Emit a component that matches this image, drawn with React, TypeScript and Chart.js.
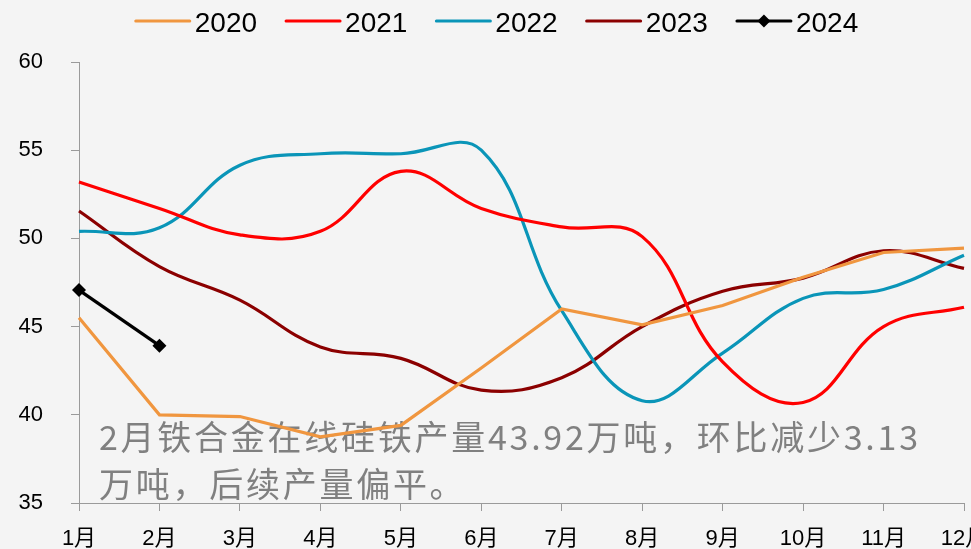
import React, { useEffect, useRef } from "react";
import { Chart, registerables } from "chart.js";

Chart.register(...registerables);

// ---------- data ----------
const months = ["1月", "2月", "3月", "4月", "5月", "6月", "7月", "8月", "9月", "10月", "11月", "12月"];
const seriesNames = ["2020", "2021", "2022", "2023", "2024"];
const values2020 = [45.5, 40.0, 39.9, 38.75, 39.4, 42.65, 46.0, 45.1, 46.2, 47.8, 49.2, 49.45];
const values2021 = [53.2, 51.7, 50.2, 50.4, 53.8, 51.7, 50.65, 50.1, 43.0, 40.7, 45.0, 46.1];
const values2022 = [50.4, 50.6, 54.15, 54.8, 54.8, 55.0, 45.9, 40.8, 43.5, 46.6, 47.1, 49.05];
const values2023 = [51.55, 48.4, 46.5, 43.85, 43.2, 41.4, 42.1, 45.0, 47.0, 47.75, 49.3, 48.3];
const values2024: (number | null)[] = [47.07, 43.92, null, null, null, null, null, null, null, null, null, null];
const yMin = 35;
const yMax = 60;
const yStep = 5;
const noteLines = ["2月铁合金在线硅铁产量43.92万吨，环比减少3.13", "万吨，后续产量偏平。"];

// ---------- styles ----------
const colors = ["#F0963F", "#FF0000", "#0A95B8", "#8B0000", "#000000"];
const axisColor = "#9A9A9A";
const tickFont = '"Liberation Sans", Arial, "Noto Sans CJK SC", sans-serif';

const legendPlugin = {
  id: "customLegend",
  afterDraw(chart: any) {
    const ctx = chart.ctx as CanvasRenderingContext2D;
    ctx.save();
    ctx.font = `28px ${tickFont}`;
    const lineW = 54;
    const gap = 5;
    const itemGap = 29;
    const items = chart.data.datasets.map((ds: any) => ({
      ds,
      text: ds.label as string,
      w: ctx.measureText(ds.label).width,
    }));
    const total =
      items.reduce((s: number, it: any) => s + lineW + gap + it.w, 0) + itemGap * (items.length - 1);
    let x = 497 - total / 2;
    const y = 21;
    for (const it of items) {
      ctx.strokeStyle = it.ds.borderColor;
      ctx.lineWidth = 3;
      ctx.lineCap = "round";
      ctx.beginPath();
      ctx.moveTo(x, y);
      ctx.lineTo(x + lineW, y);
      ctx.stroke();
      if (it.ds.pointRadius > 0) {
        const cx = x + lineW / 2;
        const r = 6.5;
        ctx.fillStyle = it.ds.borderColor;
        ctx.beginPath();
        ctx.moveTo(cx, y - r);
        ctx.lineTo(cx + r, y);
        ctx.lineTo(cx, y + r);
        ctx.lineTo(cx - r, y);
        ctx.closePath();
        ctx.fill();
      }
      ctx.fillStyle = "#000000";
      ctx.textBaseline = "alphabetic";
      ctx.textAlign = "left";
      ctx.fillText(it.text, x + lineW + gap, 32);
      x += lineW + gap + it.w + itemGap;
    }
    ctx.restore();
  },
};

const notePlugin = {
  id: "noteText",
  beforeDatasetsDraw(chart: any) {
    const ctx = chart.ctx as CanvasRenderingContext2D;
    ctx.save();
    ctx.font = '34px "Noto Sans CJK SC", sans-serif';
    ctx.fillStyle = "#808080";
    ctx.textBaseline = "alphabetic";
    ctx.textAlign = "left";
    const first = Array.from(noteLines[0]);
    const natural = first.reduce((s, c) => s + ctx.measureText(c).width, 0);
    const targetW = 819;
    const spacing = (targetW - natural) / (first.length - 1);
    const baselines = [450, 497];
    noteLines.forEach((line, i) => {
      let x = 99;
      for (const c of Array.from(line)) {
        ctx.fillText(c, x, baselines[i]);
        x += ctx.measureText(c).width + spacing;
      }
    });
    ctx.restore();
  },
};

export default function App() {
  const canvasRef = useRef<HTMLCanvasElement | null>(null);

  useEffect(() => {
    document.body.style.margin = "0";
    const canvas = canvasRef.current;
    if (!canvas) return;
    const smoothCommon = { borderWidth: 3.2, pointRadius: 0, pointHoverRadius: 0, fill: false };
    const chart = new Chart(canvas, {
      type: "line",
      data: {
        labels: months,
        datasets: [
          { label: seriesNames[0], data: values2020, borderColor: colors[0], tension: 0, ...smoothCommon },
          { label: seriesNames[1], data: values2021, borderColor: colors[1], tension: 0.4, ...smoothCommon },
          { label: seriesNames[2], data: values2022, borderColor: colors[2], tension: 0.4, ...smoothCommon },
          { label: seriesNames[3], data: values2023, borderColor: colors[3], tension: 0.4, ...smoothCommon },
          {
            label: seriesNames[4],
            data: values2024,
            borderColor: colors[4],
            backgroundColor: colors[4],
            borderWidth: 3.2,
            tension: 0,
            pointStyle: "rectRot",
            pointRadius: 7,
            pointBackgroundColor: colors[4],
            pointBorderColor: colors[4],
            pointBorderWidth: 0,
            fill: false,
          },
        ],
      },
      options: {
        responsive: false,
        animation: false,
        devicePixelRatio: 1,
        layout: { padding: { top: 62, right: 5, left: 0, bottom: 0 } },
        plugins: {
          legend: { display: false },
          tooltip: { enabled: false },
        },
        scales: {
          x: {
            offset: false,
            grid: { drawOnChartArea: false, drawTicks: true, tickLength: 8, color: axisColor, lineWidth: 1 },
            border: { display: true, color: axisColor, width: 1 },
            ticks: {
              autoSkip: false,
              maxRotation: 0,
              minRotation: 0,
              padding: 15,
              color: "#000000",
              font: { size: 22, family: tickFont },
            },
            afterFit: (scale: any) => {
              scale.height = 46;
              scale.paddingRight = 0;
            },
          },
          y: {
            min: yMin,
            max: yMax,
            grid: { drawOnChartArea: false, drawTicks: true, tickLength: 8, color: axisColor, lineWidth: 1 },
            border: { display: true, color: axisColor, width: 1 },
            ticks: {
              stepSize: yStep,
              padding: 28,
              color: "#000000",
              font: { size: 22, family: tickFont },
            },
            afterFit: (scale: any) => {
              scale.width = 79;
            },
          },
        },
      },
      plugins: [notePlugin, legendPlugin],
    });
    return () => chart.destroy();
  }, []);

  return (
    <div style={{ width: 971, height: 549, background: "#F4F4F4", overflow: "hidden" }}>
      <canvas ref={canvasRef} width={971} height={549} style={{ display: "block" }} />
    </div>
  );
}
